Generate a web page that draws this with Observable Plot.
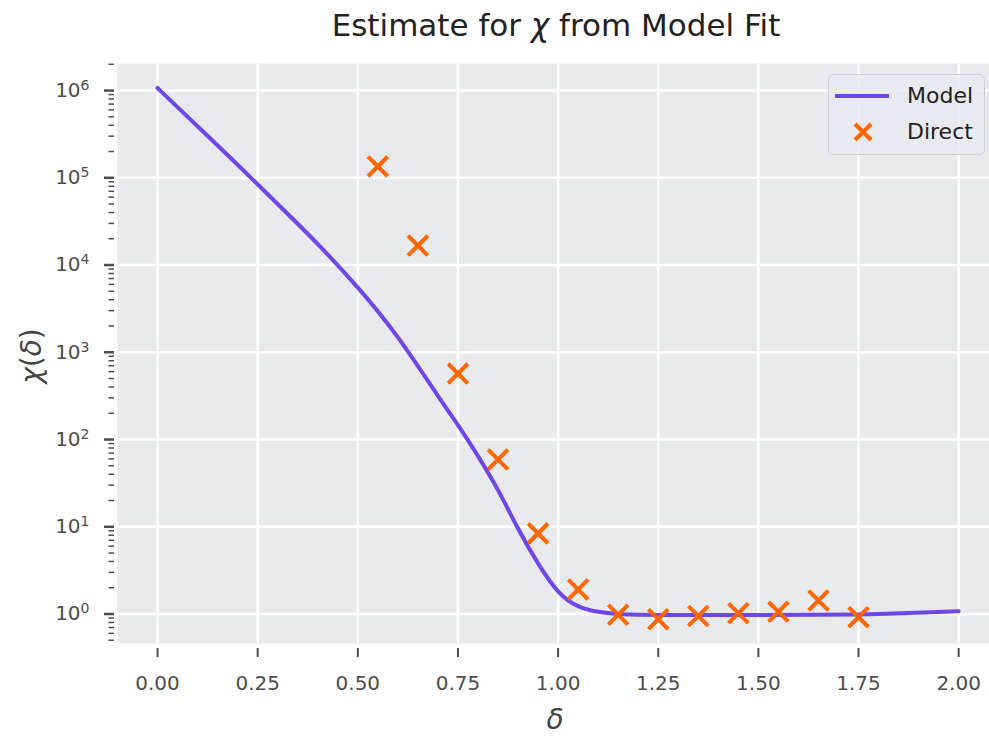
<!DOCTYPE html>
<html>
<head>
<meta charset="utf-8">
<script src="https://cdn.jsdelivr.net/npm/d3@7"></script>
<script src="https://cdn.jsdelivr.net/npm/@observablehq/plot@0.6"></script>
<style>
  html, body { margin: 0; padding: 0; background: #ffffff; overflow: hidden; }
  #wrap { position: relative; width: 989px; height: 736px; font-family: "DejaVu Sans", "Noto Sans", sans-serif; }
  #title { position: absolute; left: 0; width: 1112px; top: 7px; text-align: center; font-size: 31px; color: #222; white-space: nowrap; }
  #xlabel { position: absolute; left: 455px; width: 200px; top: 703px; text-align: center; font-size: 28px; font-style: italic; color: #444; }
  #ylabel { position: absolute; left: 31px; top: 356px; transform: translate(-50%, -50%) rotate(-90deg); font-size: 28px; color: #444; white-space: nowrap; }
  #legend { position: absolute; left: 828px; top: 74px; width: 157px; height: 81px; border: 1.5px solid #cfd1d4; border-radius: 5px; background: rgba(232,234,238,0.85); box-sizing: border-box; }
  .lg { position: absolute; font-size: 22px; color: #222; line-height: 24px; }
</style>
</head>
<body>
<div id="wrap">
  <div id="title">Estimate for <i>χ</i> from Model Fit</div>
  <div id="chart"></div>
  <div id="xlabel">δ</div>
  <div id="ylabel"><i>χ</i>(<i>δ</i>)</div>
  <div id="legend">
    <svg width="157" height="81" style="position:absolute;left:0;top:0">
      <line x1="6" x2="60" y1="21" y2="21" stroke="#6f47e6" stroke-width="4"></line>
      <path d="M26,49L42,65M26,65L42,49" stroke="#ff6600" stroke-width="4" fill="none"></path>
    </svg>
    <div class="lg" style="left:78px;top:9px">Model</div>
    <div class="lg" style="left:78px;top:45px">Direct</div>
  </div>
</div>
<script>
// Model curve
const modelDelta = [0, 0.1, 0.2, 0.3, 0.4, 0.5, 0.6, 0.7, 0.75, 0.8, 0.85, 0.9, 0.95, 1.0, 1.05, 1.1, 1.15, 1.25, 1.5, 1.75, 1.875, 2.0];
const modelChi = [1.07e6, 3.89e5, 1.41e5, 5.0e4, 1.74e4, 5500, 1480, 316, 146, 64.6, 26.3, 9.55, 3.8, 1.82, 1.23, 1.06, 1.0, 0.977, 0.973, 0.989, 1.03, 1.076];
// Direct estimates
const directDelta = [0.55, 0.65, 0.75, 0.85, 0.95, 1.05, 1.15, 1.25, 1.35, 1.45, 1.55, 1.65, 1.75];
const directChi = [1.35e5, 1.67e4, 570, 59, 8.4, 1.91, 0.98, 0.87, 0.95, 1.02, 1.06, 1.43, 0.92];
// Ticks
const xTicks = [0, 0.25, 0.5, 0.75, 1.0, 1.25, 1.5, 1.75, 2.0];
const xTickLabels = ["0.00", "0.25", "0.50", "0.75", "1.00", "1.25", "1.50", "1.75", "2.00"];
const yExponents = [0, 1, 2, 3, 4, 5, 6];

const model = modelDelta.map((d, i) => ({delta: d, chi: modelChi[i]}));
const direct = directDelta.map((d, i) => ({delta: d, chi: directChi[i]}));
const yDomain = [Math.pow(10, -0.338), Math.pow(10, 6.31)];
const yMajor = yExponents.map(e => Math.pow(10, e));
const yMinor = [];
for (let k = -1; k <= 6; k++) for (let m = 2; m <= 9; m++) {
  const v = m * Math.pow(10, k);
  if (v >= yDomain[0] && v <= yDomain[1]) yMinor.push(v);
}

const plot = Plot.plot({
  width: 989,
  height: 736,
  marginTop: 63,
  marginBottom: 93,
  marginLeft: 117,
  marginRight: 0,
  style: {color: "#4d4d4d", fontFamily: "'DejaVu Sans', 'Noto Sans', sans-serif", fontSize: "20px", background: "transparent"},
  x: {domain: [-0.1, 2.077]},
  y: {type: "log", domain: yDomain},
  marks: [
    Plot.frame({fill: "#e8eaee", stroke: null}),
    Plot.gridX({ticks: xTicks, stroke: "white", strokeOpacity: 1, strokeWidth: 2.5}),
    Plot.gridY({ticks: yMajor, stroke: "white", strokeOpacity: 1, strokeWidth: 2.5}),
    Plot.axisX({ticks: xTicks, tickFormat: (d) => xTickLabels[xTicks.indexOf(d)], tickSize: 9, dy: 5, tickPadding: 18, strokeWidth: 2, fontSize: 20, label: null}),
    Plot.axisY({ticks: yMinor, tickSize: 5.5, dx: -3, strokeWidth: 1.5, text: null, label: null}),
    Plot.axisY({ticks: yMajor, tickSize: 10, dx: -3, tickPadding: 15, strokeWidth: 2.5, fontSize: 20, label: null,
      tickFormat: (d) => "10|" + Math.round(Math.log10(d))}),
    Plot.line(model, {x: "delta", y: "chi", stroke: "#6f47e6", strokeWidth: 4, curve: "natural"}),
    Plot.dot(direct, {x: "delta", y: "chi", symbol: "times", r: 9, stroke: "#ff6600", strokeWidth: 4})
  ]
});
document.getElementById("chart").appendChild(plot);

// Tick label size
d3.select(plot).selectAll('g[aria-label$="tick label"]').attr("font-size", "20px").style("font-size", "20px");

// Superscript exponents on the log axis labels
d3.select(plot).selectAll("text").each(function() {
  const t = this.textContent;
  if (/^10\|\-?\d+$/.test(t)) {
    const exp = t.split("|")[1];
    const sel = d3.select(this);
    sel.text(null);
    sel.append("tspan").text("10");
    sel.append("tspan").attr("dy", "-0.5em").attr("font-size", "14px").text(exp);
  }
});
</script>
</body>
</html>
